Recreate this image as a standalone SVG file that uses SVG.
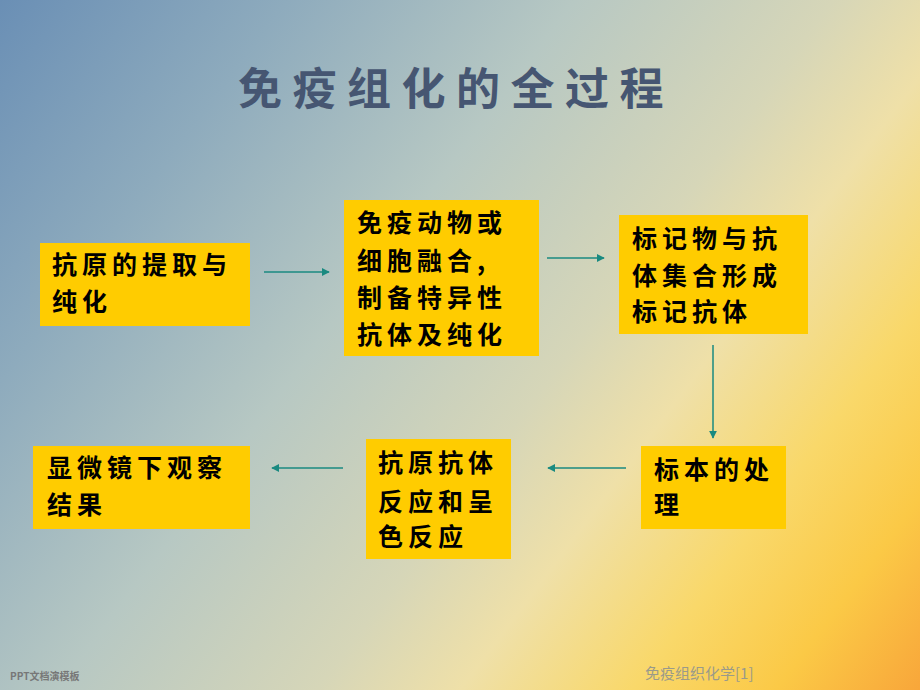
<svg xmlns="http://www.w3.org/2000/svg" width="920" height="690" viewBox="0 0 920 690">
<defs>
<linearGradient id="bg" gradientUnits="userSpaceOnUse" x1="0" y1="0" x2="920" y2="690">
<stop offset="0" stop-color="#6a8fb5"/>
<stop offset="0.2" stop-color="#8eabbd"/>
<stop offset="0.4" stop-color="#b7c8c3"/>
<stop offset="0.58" stop-color="#d6d6b8"/>
<stop offset="0.68" stop-color="#efe0a8"/>
<stop offset="0.8" stop-color="#f9d86a"/>
<stop offset="0.9" stop-color="#fbc946"/>
<stop offset="1" stop-color="#f8a63a"/>
</linearGradient>
<marker id="ah" viewBox="0 0 10 10" refX="9" refY="5" markerWidth="8" markerHeight="8" markerUnits="userSpaceOnUse" orient="auto">
<path d="M0,0 L10,5 L0,10 z" fill="#1a8a80"/>
</marker>
<style>
.box{fill:#ffcc00}
.t{font-family:"Noto Sans CJK SC","Noto Sans CJK JP",sans-serif;font-size:25px;font-weight:bold;fill:#000;letter-spacing:5px}
.c{stroke:#1a8a80;stroke-width:1.5;fill:none;marker-end:url(#ah)}
</style>
</defs>
<rect x="0" y="0" width="920" height="690" fill="url(#bg)"/>
<text x="238" y="105" font-family="'Noto Sans CJK SC',sans-serif" font-size="44" font-weight="bold" fill="#465672" letter-spacing="10.5">免疫组化的全过程</text>

<g id="n1"><rect class="box" x="40" y="243" width="210" height="83"/>
<text class="t" x="52" y="274">抗原的提取与</text><text class="t" x="52" y="311">纯化</text></g>
<g id="n2"><rect class="box" x="344" y="200" width="195" height="156"/>
<text class="t" x="357" y="232">免疫动物或</text><text class="t" x="357" y="270">细胞融合,</text><text class="t" x="357" y="307">制备特异性</text><text class="t" x="357" y="344">抗体及纯化</text></g>
<g id="n3"><rect class="box" x="619" y="215" width="189" height="119"/>
<text class="t" x="632" y="248">标记物与抗</text><text class="t" x="632" y="285">体集合形成</text><text class="t" x="632" y="321">标记抗体</text></g>
<g id="n6"><rect class="box" x="641" y="446" width="145" height="83"/>
<text class="t" x="654" y="479">标本的处</text><text class="t" x="654" y="514">理</text></g>
<g id="n5"><rect class="box" x="366" y="439" width="145" height="120"/>
<text class="t" x="378" y="472">抗原抗体</text><text class="t" x="378" y="511">反应和呈</text><text class="t" x="378" y="546">色反应</text></g>
<g id="n4"><rect class="box" x="33" y="446" width="217" height="83"/>
<text class="t" x="47" y="477">显微镜下观察</text><text class="t" x="47" y="514">结果</text></g>

<g id="connectors">
<line class="c" x1="264" y1="272" x2="329" y2="272"/>
<line class="c" x1="547" y1="258" x2="604" y2="258"/>
<line class="c" x1="713" y1="345" x2="713" y2="438"/>
<line class="c" x1="626" y1="468" x2="548" y2="468"/>
<line class="c" x1="343" y1="468" x2="272" y2="468"/>
</g>

<text x="10" y="680" font-family="'Noto Sans CJK SC',sans-serif" font-size="10" font-weight="bold" fill="#777">PPT文档演模板</text>
<text x="645" y="679" font-family="'Noto Sans CJK SC',sans-serif" font-size="15" fill="#9a9a8a">免疫组织化学[1]</text>
</svg>
